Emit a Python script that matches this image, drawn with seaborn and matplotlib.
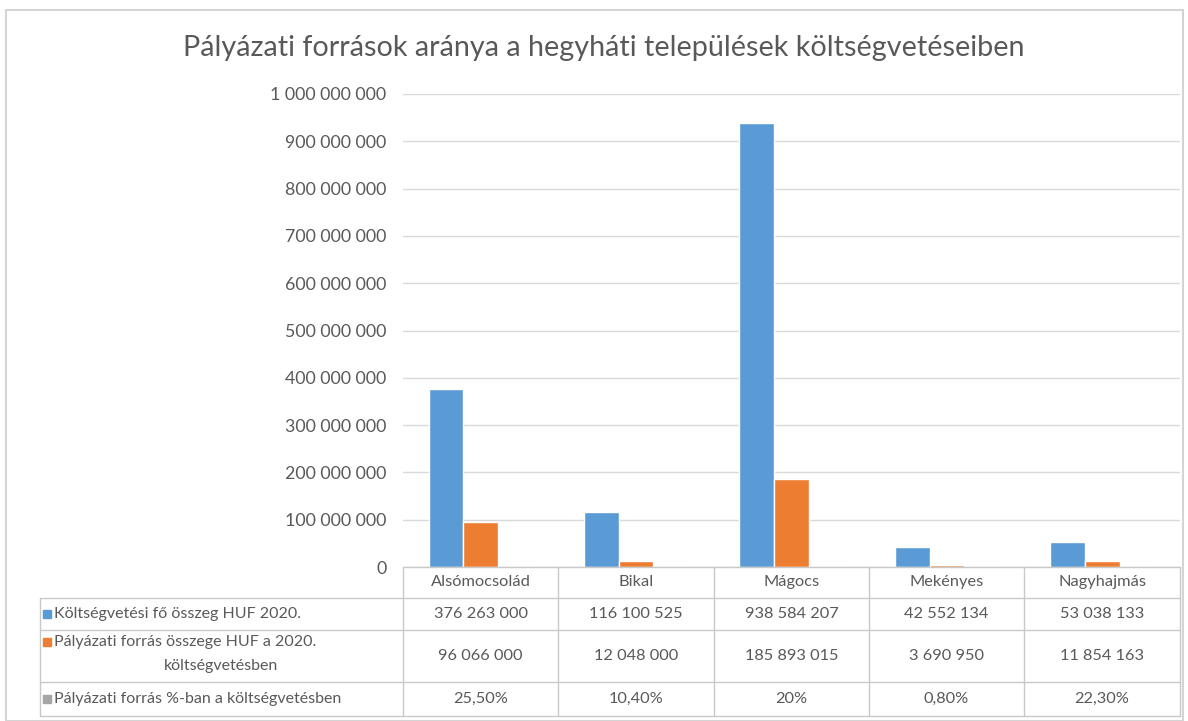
import numpy as np
import pandas as pd
import matplotlib.pyplot as plt
import seaborn as sns
from matplotlib.patches import Rectangle
from matplotlib.lines import Line2D

# Data
towns = ["Alsómocsolád", "Bikal", "Mágocs", "Mekényes", "Nagyhajmás"]
budget = [376263000, 116100525, 938584207, 42552134, 53038133]
grant = [96066000, 12048000, 185893015, 3690950, 11854163]
share = [0.255, 0.104, 0.20, 0.008, 0.223]
share_labels = ["25,50%", "10,40%", "20%", "0,80%", "22,30%"]
series = ["Költségvetési fő összeg HUF 2020.",
          "Pályázati forrás összege HUF a 2020. költségvetésben",
          "Pályázati forrás %-ban a költségvetésben"]
colors = ["#5B9BD5", "#ED7D31", "#A5A5A5"]
yticks = np.arange(0, 1_000_000_001, 100_000_000)


def fmt(v):
    return f"{v:,}".replace(",", " ")


df = pd.DataFrame({
    "town": towns * 3,
    "series": [series[0]] * 5 + [series[1]] * 5 + [series[2]] * 5,
    "value": budget + grant + share,
})

sns.set_style("white")
plt.rcParams["font.family"] = ["Lato", "DejaVu Sans"]

W, H = 1188, 721
TXT = "#595959"
LINE = "#C9C9C9"


def fx(x):
    return x / W


def fy(y):
    return 1 - y / H


fig = plt.figure(figsize=(W / 100, H / 100), dpi=100)

# chart frame
fig.add_artist(Rectangle((fx(6), fy(721)), fx(1177), fy(10) - fy(721),
                         fill=False, edgecolor="#D4D4D4", lw=1.5, transform=fig.transFigure))

ax = fig.add_axes([fx(403), fy(567), fx(1180) - fx(403), fy(94) - fy(567)])
sns.barplot(data=df, x="town", y="value", hue="series", palette=colors,
            width=0.67, saturation=1, errorbar=None, legend=False, ax=ax)
ax.set_xlim(-0.5, 4.5)
ax.set_ylim(0, 1_000_000_000)
ax.set_yticks(yticks)
ax.set_yticklabels([fmt(int(v)) for v in yticks], color=TXT, fontsize=12.8)
ax.set_xticks([])
ax.set_xlabel("")
ax.set_ylabel("")
ax.tick_params(axis="y", length=0, pad=12)
ax.yaxis.grid(True, color="#D9D9D9", lw=1)
ax.set_axisbelow(True)
sns.despine(ax=ax, left=True, bottom=True)

fig.text(fx(604), fy(48), "Pályázati források aránya a hegyháti települések költségvetéseiben",
         ha="center", va="center", fontsize=20.7, color=TXT)

# data table
rows_y = [567, 598, 630, 682, 716]
cols_x = [403, 558, 714, 869, 1024, 1180]


def hline(y, x0, x1):
    fig.add_artist(Line2D([fx(x0), fx(x1)], [fy(y), fy(y)], color=LINE, lw=1,
                          transform=fig.transFigure))


def vline(x, y0, y1):
    fig.add_artist(Line2D([fx(x), fx(x)], [fy(y0), fy(y1)], color=LINE, lw=1,
                          transform=fig.transFigure))


hline(567, 403, 1180)
for y in rows_y[1:]:
    hline(y, 40, 1180)
vline(40, 598, 716)
for x in cols_x:
    vline(x, 567, 716)

table_vals = [[fmt(v) for v in budget], [fmt(v) for v in grant], share_labels]
for i, t in enumerate(towns):
    cx = (cols_x[i] + cols_x[i + 1]) / 2
    fig.text(fx(cx), fy(582), t, ha="center", va="center", fontsize=11.8, color=TXT)
    for r in range(3):
        cy = (rows_y[r + 1] + rows_y[r + 2]) / 2
        fig.text(fx(cx), fy(cy), table_vals[r][i], ha="center", va="center",
                 fontsize=11.8, color=TXT)

# row headers with legend keys
fig.add_artist(Rectangle((fx(43), fy(618)), fx(8), fy(610) - fy(618),
                         color=colors[0], transform=fig.transFigure))
fig.text(fx(54), fy(614), series[0], ha="left", va="center", fontsize=11.5, color=TXT)

fig.add_artist(Rectangle((fx(43), fy(646)), fx(8), fy(638) - fy(646),
                         color=colors[1], transform=fig.transFigure))
fig.text(fx(54), fy(642), "Pályázati forrás összege HUF a 2020.", ha="left", va="center",
         fontsize=11.5, color=TXT)
fig.text(fx(221), fy(666), "költségvetésben", ha="center", va="center",
         fontsize=11.5, color=TXT)

fig.add_artist(Rectangle((fx(43), fy(703)), fx(8), fy(695) - fy(703),
                         color=colors[2], transform=fig.transFigure))
fig.text(fx(54), fy(699), series[2], ha="left", va="center", fontsize=11.5, color=TXT)

fig.savefig("out.png", dpi=100)
